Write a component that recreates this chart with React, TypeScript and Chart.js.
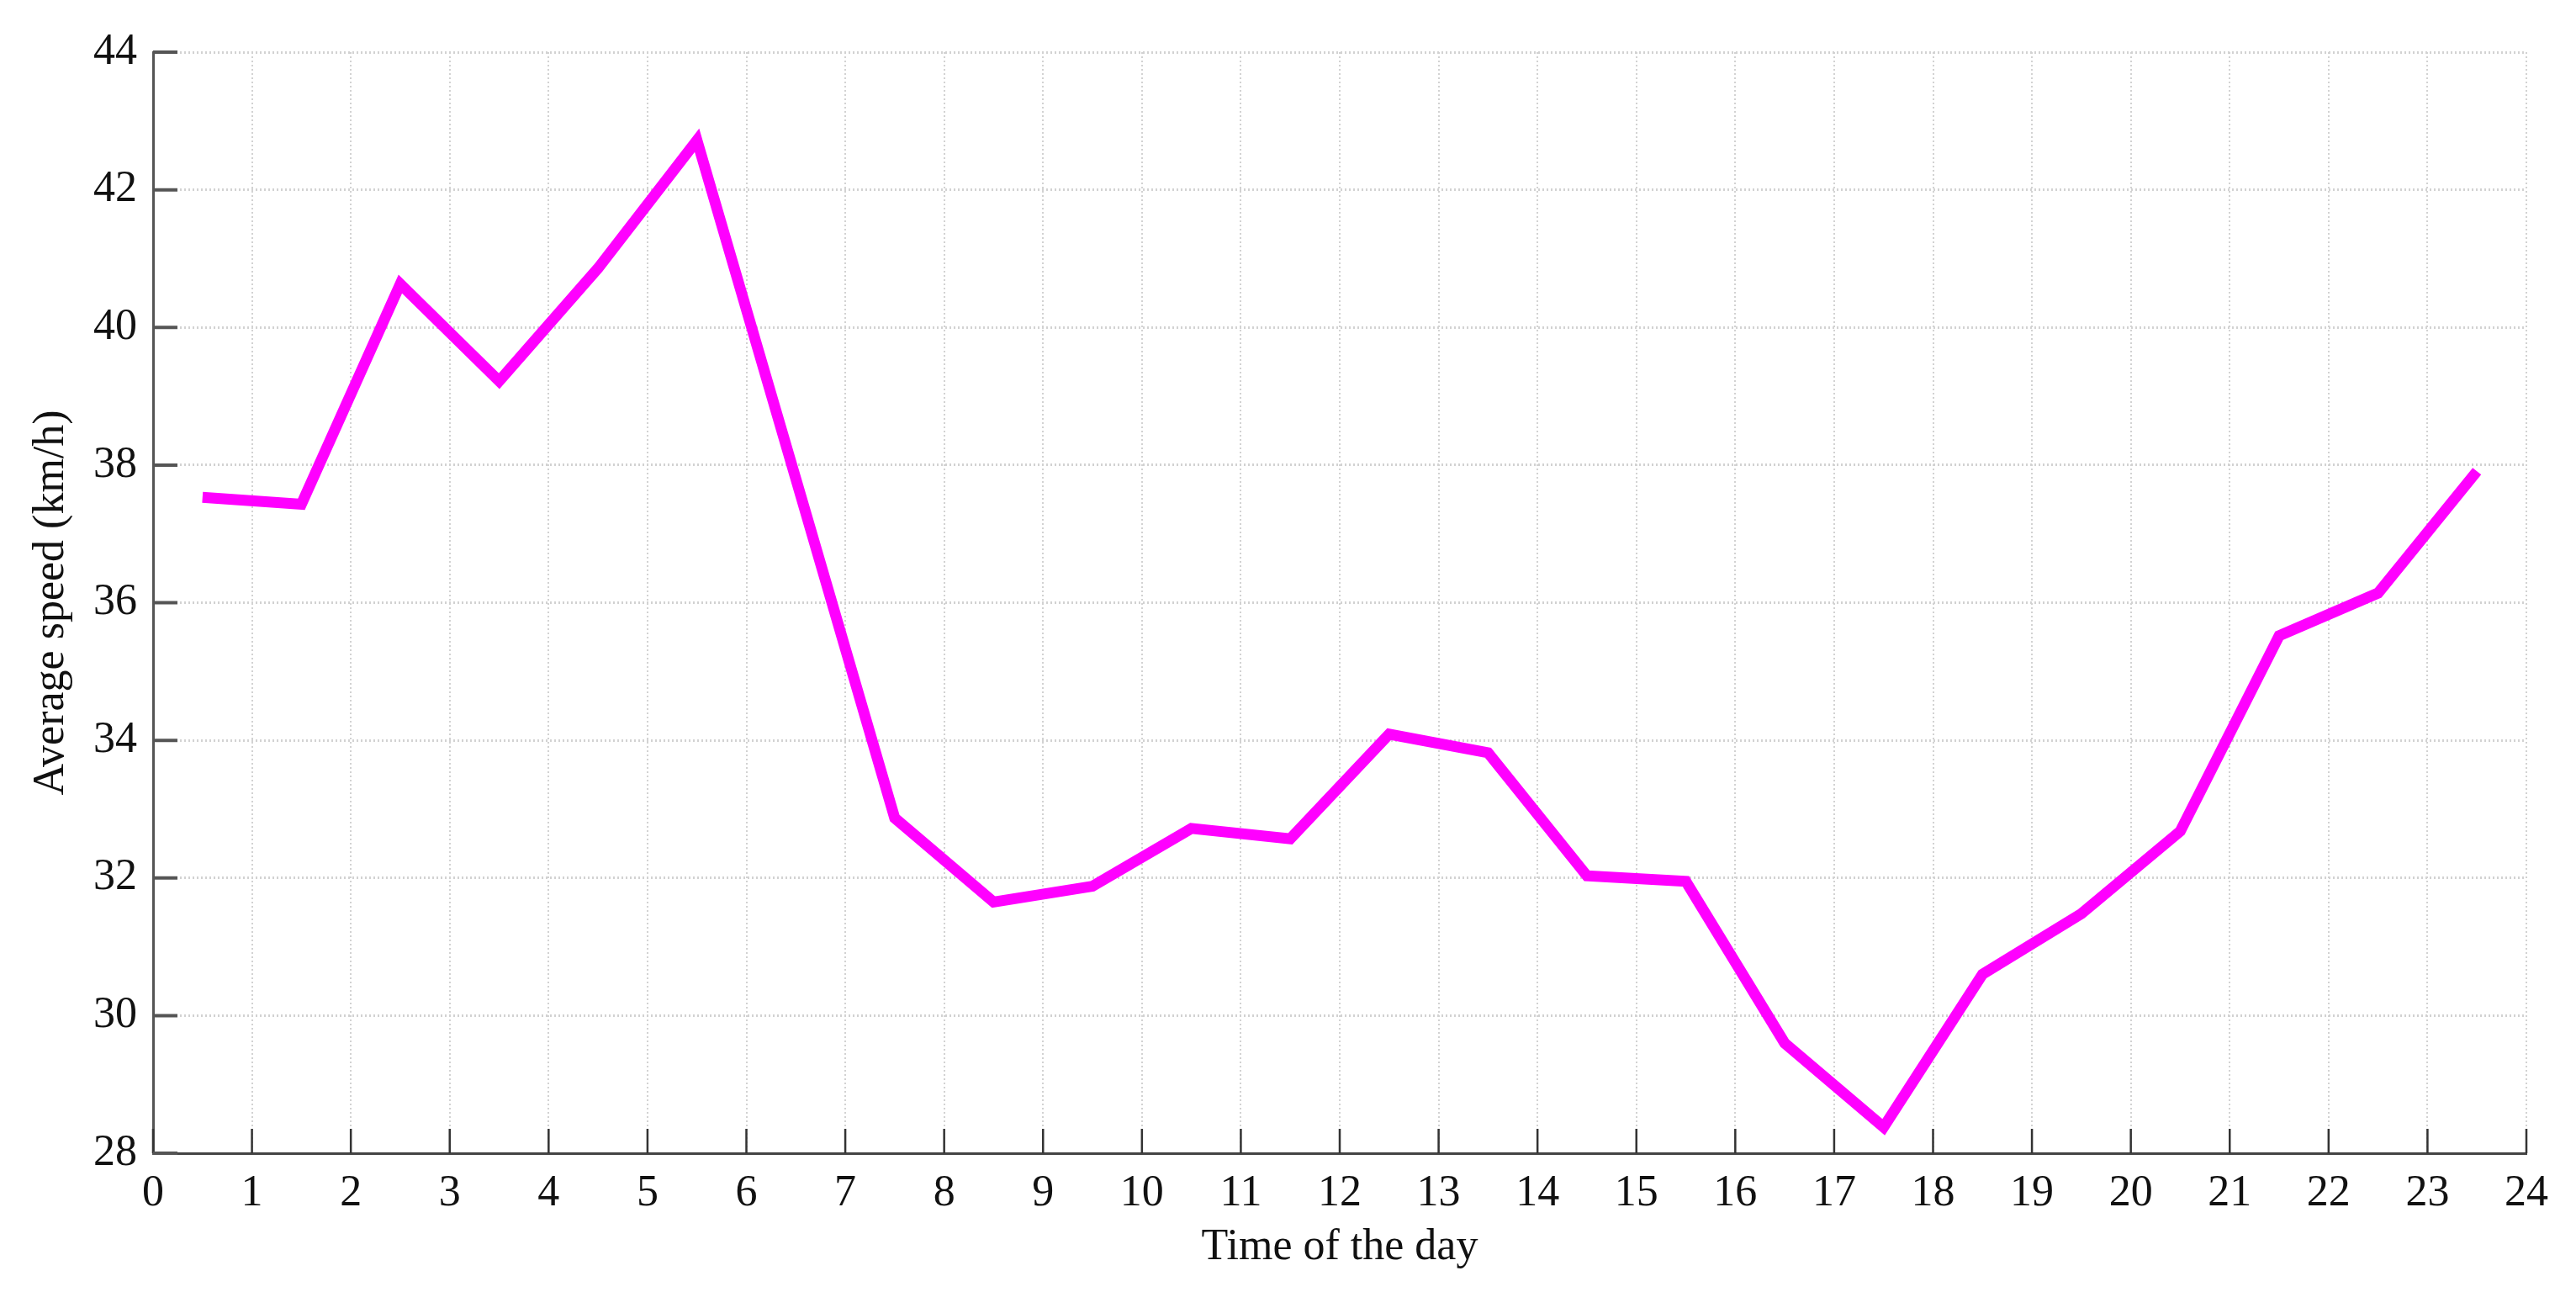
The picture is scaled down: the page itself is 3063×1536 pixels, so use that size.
import React, { useEffect, useRef } from "react";
import { Chart, registerables } from "chart.js";

Chart.register(...registerables);

const hours: number[] = [0.5, 1.5, 2.5, 3.5, 4.5, 5.5, 6.5, 7.5, 8.5, 9.5, 10.5, 11.5, 12.5, 13.5, 14.5, 15.5, 16.5, 17.5, 18.5, 19.5, 20.5, 21.5, 22.5, 23.5];
const speeds: number[] = [37.53, 37.43, 40.63, 39.22, 40.86, 42.72, 37.8, 32.87, 31.65, 31.88, 32.72, 32.57, 34.09, 33.82, 32.03, 31.95, 29.6, 28.38, 30.6, 31.48, 32.68, 35.52, 36.14, 37.91];
const xTicks: number[] = Array.from({ length: 25 }, (_, i) => i);
const yTicks: number[] = [28, 30, 32, 34, 36, 38, 40, 42, 44];
const xTitle = "Time of the day";
const yTitle = "Average speed (km/h)";

const FONT = "'Liberation Serif', 'Times New Roman', serif";
const W = 3063;
const H = 1536;

const inwardTicks = {
  id: "inwardTicks",
  afterDraw(chart: any) {
    const { ctx, chartArea } = chart;
    const xs = chart.scales.x;
    const ys = chart.scales.y;
    ctx.save();
    ctx.setLineDash([]);
    ctx.strokeStyle = "#333333";
    ctx.lineWidth = 2.5;
    ctx.beginPath();
    for (const t of xTicks) {
      const px = xs.getPixelForValue(t);
      ctx.moveTo(px, chartArea.bottom);
      ctx.lineTo(px, chartArea.bottom - 29);
    }
    ctx.stroke();
    ctx.strokeStyle = "#555555";
    ctx.lineWidth = 4;
    ctx.beginPath();
    for (const v of yTicks) {
      const py = ys.getPixelForValue(v);
      ctx.moveTo(chartArea.left, py);
      ctx.lineTo(chartArea.left + 29, py);
    }
    ctx.stroke();
    ctx.restore();
  },
};

export default function App() {
  const ref = useRef<HTMLCanvasElement | null>(null);
  useEffect(() => {
    document.body.style.margin = "0";
    const canvas = ref.current!;
    const chart = new Chart(canvas, {
      type: "line",
      data: {
        datasets: [
          {
            data: hours.map((h, i) => ({ x: h, y: speeds[i] })),
            borderColor: "#ff00ff",
            backgroundColor: "#ff00ff",
            borderWidth: 13,
            borderCapStyle: "butt",
            borderJoinStyle: "miter",
            pointRadius: 0,
            tension: 0,
            fill: false,
          },
        ],
      },
      options: {
        responsive: false,
        animation: false,
        devicePixelRatio: 1,
        layout: { padding: { left: 0, top: 62, right: 59, bottom: 0 } },
        plugins: { legend: { display: false }, tooltip: { enabled: false } },
        scales: {
          x: {
            type: "linear",
            min: 0,
            max: 24,
            afterFit: (s: any) => {
              s.height = H - 1371;
            },
            afterBuildTicks: (s: any) => {
              s.ticks = xTicks.map((v) => ({ value: v }));
            },
            ticks: {
              color: "#111111",
              padding: 17,
              font: { family: FONT, size: 52 },
              maxRotation: 0,
              autoSkip: false,
            },
            grid: {
              color: "#d2d2d2",
              lineWidth: 2,
              drawTicks: false,
              tickLength: 0,
            },
            border: { display: true, color: "#444444", width: 3, dash: [2, 3] },
            title: {
              display: true,
              text: xTitle,
              color: "#111111",
              font: { family: FONT, size: 52 },
              padding: { top: 0, bottom: 21 },
            },
          },
          y: {
            type: "linear",
            min: 28,
            max: 44,
            afterFit: (s: any) => {
              s.width = 182;
            },
            afterBuildTicks: (s: any) => {
              s.ticks = yTicks.map((v) => ({ value: v }));
            },
            ticks: {
              color: "#111111",
              padding: 19,
              font: { family: FONT, size: 52 },
            },
            grid: {
              color: "#d2d2d2",
              lineWidth: 3,
              drawTicks: false,
              tickLength: 0,
            },
            border: { display: true, color: "#555555", width: 3, dash: [2, 3] },
            title: {
              display: true,
              text: yTitle,
              color: "#111111",
              font: { family: FONT, size: 52 },
              padding: { top: 30, bottom: 0 },
            },
          },
        },
      },
      plugins: [inwardTicks],
    } as any);
    return () => chart.destroy();
  }, []);
  return <canvas ref={ref} width={W} height={H} style={{ display: "block", width: W, height: H }} />;
}
